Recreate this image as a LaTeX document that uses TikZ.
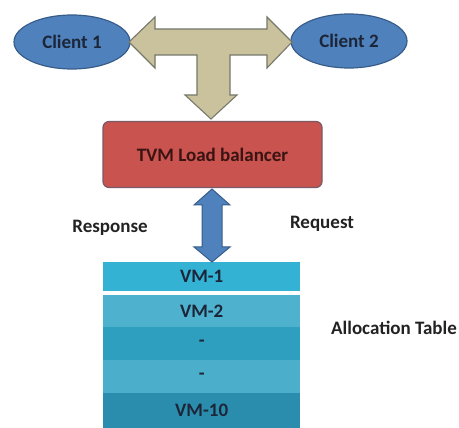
\documentclass[tikz,border=0pt]{standalone}
\usepackage{fontspec}
\setmainfont{Carlito}
\definecolor{clientblue}{HTML}{4F81BD}
\definecolor{clientedge}{HTML}{385D8A}
\definecolor{tan}{HTML}{C9C29C}
\definecolor{tanedge}{HTML}{76786A}
\definecolor{lbred}{HTML}{C8534F}
\definecolor{lbedge}{HTML}{7A5A66}
\definecolor{ink}{HTML}{1C2638}
\definecolor{redink}{HTML}{3A1412}
\definecolor{grayink}{HTML}{222222}
\definecolor{rowa}{HTML}{33B2D4}
\definecolor{rowb}{HTML}{4EB1CD}
\definecolor{rowc}{HTML}{2F9FC0}
\definecolor{rowd}{HTML}{4BAECB}
\definecolor{rowe}{HTML}{2B8DAE}
\tikzset{
  txt/.style={font=\bfseries\fontsize{19}{21}\selectfont},
  client/.style={ellipse, draw=clientedge, line width=1.2pt, fill=clientblue,
    minimum width=116pt, minimum height=54pt, inner sep=0pt, txt, text=ink},
  lbbox/.style={rectangle, rounded corners=6pt, draw=lbedge, line width=1.2pt, fill=lbred,
    minimum width=219pt, minimum height=66pt, inner sep=0pt, txt, text=redink},
  vmrow/.style={rectangle, inner sep=0pt, minimum width=197pt, txt, text=ink},
  lbl/.style={txt, text=grayink, inner sep=0pt},
}
\usetikzlibrary{shapes.geometric}
\begin{document}
\begin{tikzpicture}[x=1pt, y=-1pt]
\useasboundingbox (0,0) rectangle (459,428);
\fill[white] (0,0) rectangle (459,428);

% clients
\node[client] (c1) at (72,42) {Client 1};
\node[client] (c2) at (349,41) {Client 2};

% T-shaped block arrow between the clients and the balancer
\draw[fill=tan, draw=tanedge, line width=1.1pt, line join=miter]
  (129,42) -- (155,17) -- (155,29) -- (267,29) -- (267,17) -- (292,42)
  -- (267,68) -- (267,55) -- (230,55) -- (230,95) -- (237,95) -- (211,119)
  -- (185,95) -- (197,95) -- (197,55) -- (155,55) -- (155,68) -- cycle;

% load balancer
\node[lbbox] (lb) at (212.5,154.5) {TVM Load balancer};

% allocation table rows
\node[vmrow, fill=rowa, minimum height=29pt, anchor=north west] (vm1) at (103,262) {VM-1};
\node[vmrow, fill=rowb, minimum height=32pt, anchor=north west] (vm2) at (103,295) {VM-2};
\node[vmrow, fill=rowc, minimum height=33pt, anchor=north west] (vm3) at (103,327) {-};
\node[vmrow, fill=rowd, minimum height=33pt, anchor=north west] (vm4) at (103,360) {-};
\node[vmrow, fill=rowe, minimum height=35pt, anchor=north west] (vm10) at (103,393) {VM-10};

% request / response double arrow
\draw[fill=clientblue, draw=clientedge, line width=1pt]
  (212,189) -- (230,205) -- (222,205) -- (222,247) -- (230,247) -- (212,262)
  -- (194,247) -- (202,247) -- (202,205) -- (194,205) -- cycle;

% labels
\node[lbl] (resp) at (110,228) {Response};
\node[lbl] (req) at (322,224) {Request};
\node[lbl] (alloc) at (394,328) {Allocation Table};
\end{tikzpicture}
\end{document}
